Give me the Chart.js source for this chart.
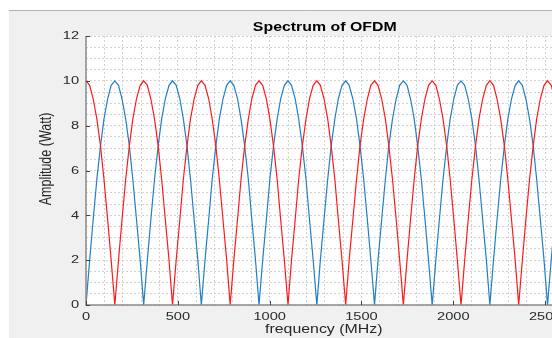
<!DOCTYPE html>
<html>
<head>
<meta charset="utf-8">
<script src="https://cdn.jsdelivr.net/npm/chart.js@4/dist/chart.umd.min.js"></script>
<style>
    html, body { margin: 0; padding: 0; background: #fff; overflow: hidden; width: 552px; height: 338px; }
    #wrap { position: absolute; left: 0; top: 0; width: 600px; height: 338px; }
</style>
</head>
<body>
<div id="wrap"><canvas id="spectrumChart" width="600" height="338"></canvas></div>
<script>
// frequency samples (MHz) read along the axis
const freq = [
    0, 20, 39, 59, 79, 98, 118, 137, 157, 177, 196, 216, 236, 255, 275, 295,
    314, 334, 353, 373, 393, 412, 432, 452, 471, 491, 511, 530, 550, 569, 589, 609,
    628, 648, 668, 687, 707, 726, 746, 766, 785, 805, 825, 844, 864, 884, 903, 923,
    942, 962, 982, 1001, 1021, 1041, 1060, 1080, 1100, 1119, 1139, 1158, 1178, 1198, 1217, 1237,
    1257, 1276, 1296, 1316, 1335, 1355, 1374, 1394, 1414, 1433, 1453, 1473, 1492, 1512, 1532, 1551,
    1571, 1590, 1610, 1630, 1649, 1669, 1689, 1708, 1728, 1748, 1767, 1787, 1806, 1826, 1846, 1865,
    1885, 1905, 1924, 1944, 1964, 1983, 2003, 2022, 2042, 2062, 2081, 2101, 2121, 2140, 2160, 2180,
    2199, 2219, 2238, 2258, 2278, 2297, 2317, 2337, 2356, 2376, 2395, 2415, 2435, 2454, 2474, 2494,
    2513, 2533, 2553, 2572, 2592
];

// red carrier amplitude (Watt)
const redAmp = [
    10, 9.8, 9.2, 8.3, 7.1, 5.6, 3.8, 2.0, 0, 2.0, 3.8, 5.6, 7.1, 8.3, 9.2, 9.8,
    10, 9.8, 9.2, 8.3, 7.1, 5.6, 3.8, 2.0, 0, 2.0, 3.8, 5.6, 7.1, 8.3, 9.2, 9.8,
    10, 9.8, 9.2, 8.3, 7.1, 5.6, 3.8, 2.0, 0, 2.0, 3.8, 5.6, 7.1, 8.3, 9.2, 9.8,
    10, 9.8, 9.2, 8.3, 7.1, 5.6, 3.8, 2.0, 0, 2.0, 3.8, 5.6, 7.1, 8.3, 9.2, 9.8,
    10, 9.8, 9.2, 8.3, 7.1, 5.6, 3.8, 2.0, 0, 2.0, 3.8, 5.6, 7.1, 8.3, 9.2, 9.8,
    10, 9.8, 9.2, 8.3, 7.1, 5.6, 3.8, 2.0, 0, 2.0, 3.8, 5.6, 7.1, 8.3, 9.2, 9.8,
    10, 9.8, 9.2, 8.3, 7.1, 5.6, 3.8, 2.0, 0, 2.0, 3.8, 5.6, 7.1, 8.3, 9.2, 9.8,
    10, 9.8, 9.2, 8.3, 7.1, 5.6, 3.8, 2.0, 0, 2.0, 3.8, 5.6, 7.1, 8.3, 9.2, 9.8,
    10, 9.8, 9.2, 8.3, 7.1
];

// blue carrier amplitude (Watt)
const blueAmp = [
    0, 2.0, 3.8, 5.6, 7.1, 8.3, 9.2, 9.8, 10, 9.8, 9.2, 8.3, 7.1, 5.6, 3.8, 2.0,
    0, 2.0, 3.8, 5.6, 7.1, 8.3, 9.2, 9.8, 10, 9.8, 9.2, 8.3, 7.1, 5.6, 3.8, 2.0,
    0, 2.0, 3.8, 5.6, 7.1, 8.3, 9.2, 9.8, 10, 9.8, 9.2, 8.3, 7.1, 5.6, 3.8, 2.0,
    0, 2.0, 3.8, 5.6, 7.1, 8.3, 9.2, 9.8, 10, 9.8, 9.2, 8.3, 7.1, 5.6, 3.8, 2.0,
    0, 2.0, 3.8, 5.6, 7.1, 8.3, 9.2, 9.8, 10, 9.8, 9.2, 8.3, 7.1, 5.6, 3.8, 2.0,
    0, 2.0, 3.8, 5.6, 7.1, 8.3, 9.2, 9.8, 10, 9.8, 9.2, 8.3, 7.1, 5.6, 3.8, 2.0,
    0, 2.0, 3.8, 5.6, 7.1, 8.3, 9.2, 9.8, 10, 9.8, 9.2, 8.3, 7.1, 5.6, 3.8, 2.0,
    0, 2.0, 3.8, 5.6, 7.1, 8.3, 9.2, 9.8, 10, 9.8, 9.2, 8.3, 7.1, 5.6, 3.8, 2.0,
    0, 2.0, 3.8, 5.6, 7.1
];

const xTicks = [0, 500, 1000, 1500, 2000, 2500];
const yTicks = [0, 2, 4, 6, 8, 10, 12];

const titleText = 'Spectrum of OFDM';
const xTitle = 'frequency (MHz)';
const yTitle = 'Amplitude (Watt)';

// the reference text is a bit wider than plain Arial
const STRETCH = 1.27;
const FONT = '"Liberation Sans", Arial, Helvetica, sans-serif';

function toPoints(xs, ys) {
    return xs.map((x, i) => ({ x: x, y: ys[i] }));
}

function drawText(ctx, text, x, y, font, color, align, baseline, rotate) {
    ctx.save();
    ctx.translate(x, y);
    ctx.scale(STRETCH, 1);
    if (rotate) ctx.rotate(-Math.PI / 2);
    ctx.font = font;
    ctx.fillStyle = color;
    ctx.textAlign = align;
    ctx.textBaseline = baseline;
    ctx.fillText(text, 0, 0);
    ctx.restore();
}

const figurePlugin = {
    id: 'figure',
    beforeDraw(chart) {
        const ctx = chart.ctx;
        const area = chart.chartArea;
        ctx.save();
        ctx.fillStyle = '#ffffff';
        ctx.fillRect(0, 0, chart.width, chart.height);
        ctx.fillStyle = '#f0f0f0';
        ctx.fillRect(9, 10, chart.width - 9, chart.height - 10);
        ctx.strokeStyle = '#b4b4b4';
        ctx.lineWidth = 1;
        ctx.beginPath();
        ctx.moveTo(9, 10.5);
        ctx.lineTo(chart.width, 10.5);
        ctx.stroke();
        ctx.fillStyle = '#ffffff';
        ctx.fillRect(area.left, area.top, area.right - area.left, area.bottom - area.top);
        ctx.restore();
    },
    afterDraw(chart) {
        const ctx = chart.ctx;
        const area = chart.chartArea;
        const xs = chart.scales.x;
        const ys = chart.scales.y;

        // axis lines
        ctx.save();
        ctx.strokeStyle = '#8a8a8a';
        ctx.lineWidth = 1.5;
        ctx.beginPath();
        ctx.moveTo(area.left, area.top);
        ctx.lineTo(area.left, area.bottom);
        ctx.lineTo(area.right, area.bottom);
        ctx.stroke();

        // small inward ticks
        ctx.strokeStyle = '#404040';
        ctx.lineWidth = 1;
        ctx.beginPath();
        xTicks.forEach(v => {
            const px = Math.round(xs.getPixelForValue(v)) + 0.5;
            ctx.moveTo(px, area.bottom);
            ctx.lineTo(px, area.bottom - 4);
        });
        yTicks.forEach(v => {
            const py = Math.round(ys.getPixelForValue(v)) + 0.5;
            ctx.moveTo(area.left, py);
            ctx.lineTo(area.left + 4, py);
        });
        ctx.stroke();
        ctx.restore();

        const tickFont = '11.5px ' + FONT;
        xTicks.forEach(v => {
            drawText(ctx, String(v), xs.getPixelForValue(v), 320, tickFont, '#2a2a2a', 'center', 'alphabetic');
        });
        yTicks.forEach(v => {
            drawText(ctx, String(v), 79, ys.getPixelForValue(v), tickFont, '#2a2a2a', 'right', 'middle');
        });

        const midX = (area.left + area.right) / 2;
        drawText(ctx, titleText, midX, 31, 'bold 12.5px ' + FONT, '#000000', 'center', 'alphabetic');
        drawText(ctx, xTitle, midX - 1, 333, '12.5px ' + FONT, '#262626', 'center', 'alphabetic');
        drawText(ctx, yTitle, 47, 159, '12.5px ' + FONT, '#262626', 'center', 'middle', true);
    }
};

const ctx = document.getElementById('spectrumChart').getContext('2d');

new Chart(ctx, {
    type: 'line',
    data: {
        datasets: [
            {
                label: 'carrier 1',
                data: toPoints(freq, redAmp),
                borderColor: '#ff1a1a',
                borderWidth: 1.2,
                pointRadius: 0,
                tension: 0,
                fill: false
            },
            {
                label: 'carrier 2',
                data: toPoints(freq, blueAmp),
                borderColor: '#1f7fc8',
                borderWidth: 1.2,
                pointRadius: 0,
                tension: 0,
                fill: false
            }
        ]
    },
    options: {
        responsive: false,
        animation: false,
        events: [],
        layout: { padding: { top: 36, right: 36.5, bottom: 0, left: 0 } },
        plugins: {
            legend: { display: false },
            title: { display: false },
            tooltip: { enabled: false }
        },
        scales: {
            x: {
                type: 'linear',
                min: 0,
                max: 2600,
                ticks: { display: false, stepSize: 100, autoSkip: false },
                grid: { color: '#d2d2d2', lineWidth: 1, drawTicks: false },
                border: { display: false, dash: [2, 2] },
                afterFit: scale => { scale.height = 33; }
            },
            y: {
                min: 0,
                max: 12,
                ticks: { display: false, stepSize: 0.5, autoSkip: false },
                grid: { color: '#d2d2d2', lineWidth: 1, drawTicks: false },
                border: { display: false, dash: [2, 2] },
                afterFit: scale => { scale.width = 86; }
            }
        }
    },
    plugins: [figurePlugin]
});
</script>
</body>
</html>
